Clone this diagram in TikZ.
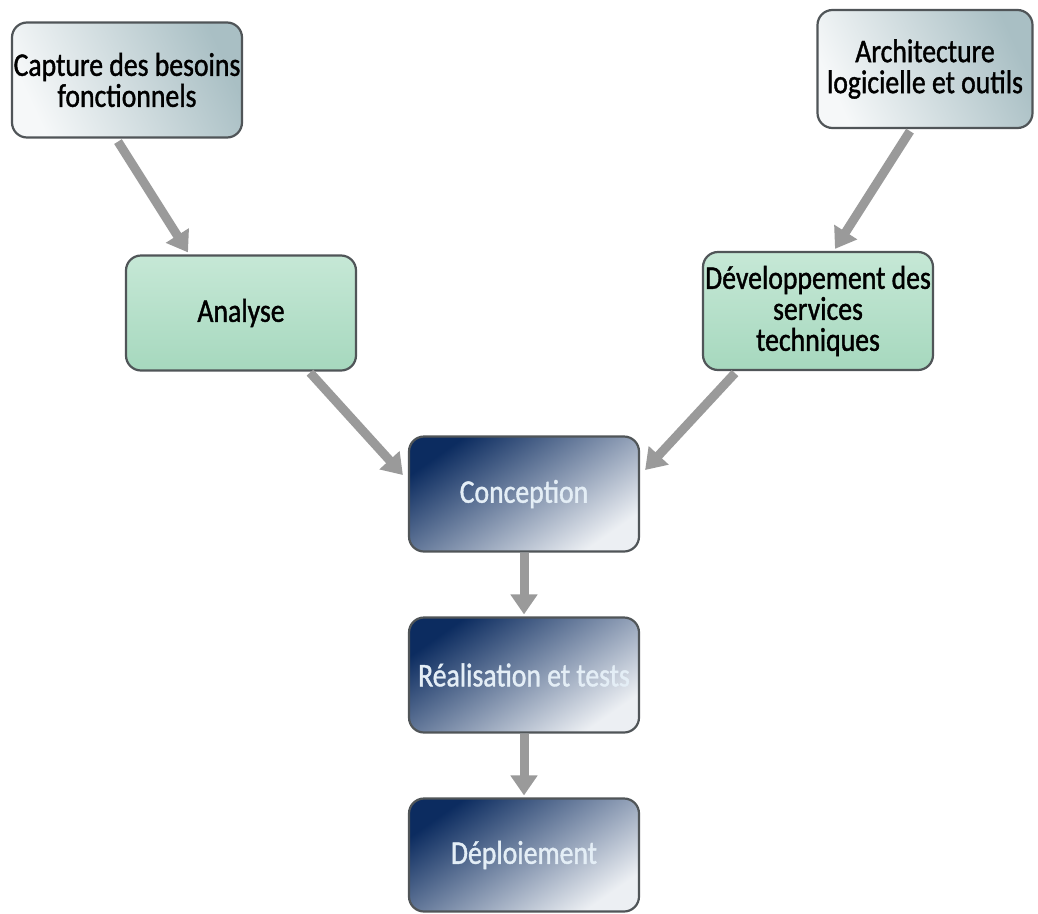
\documentclass[tikz,border=0pt]{standalone}
\usepackage{fontspec}
\newfontfamily\boxfont[FakeStretch=0.84,FakeBold=1.2]{Carlito}
\usetikzlibrary{calc,arrows.meta}
\definecolor{bordergray}{HTML}{505558}
\definecolor{arrowgray}{HTML}{9A9A9A}
\definecolor{lightA}{HTML}{F6F8F9}
\definecolor{lightB}{HTML}{A9BFC4}
\definecolor{mintA}{HTML}{C6E8D6}
\definecolor{mintB}{HTML}{A6D8BE}
\definecolor{navyA}{HTML}{0C2C60}
\definecolor{navyM}{HTML}{4C6B98}
\definecolor{navyB}{HTML}{ECEFF3}
\definecolor{paletext}{HTML}{E4EEF6}
\tikzset{
  basebox/.style={draw=bordergray, line width=2.2pt, rounded corners=15pt,
    minimum width=230pt, minimum height=115pt, align=center, inner sep=1pt,
    font=\boxfont\fontsize{33}{31}\selectfont},
  graybox/.style={basebox, left color=lightA, right color=lightB, shading angle=115, text=black},
  mintbox/.style={basebox, top color=mintA, bottom color=mintB, text=black},
  navybox/.style={basebox, left color=navyA, middle color=navyM, right color=navyB, shading angle=35, text=paletext},
  flow/.style={draw=arrowgray, line width=9pt, -{Triangle[width=26pt,length=20pt]}}
}
\begin{document}
\begin{tikzpicture}[x=1pt,y=-1pt]
\useasboundingbox[fill=white] (0,0) rectangle (1038,913);
\node[graybox] (cap) at (127,80) {Capture des besoins\\fonctionnels};
\node[graybox, minimum width=215pt, minimum height=118pt] (arch) at (925,69) {Architecture\\logicielle et outils};
\node[mintbox] (ana) at (241,313) {Analyse};
\node[mintbox, minimum height=118pt] (dev) at (818,311) {Développement des\\services\\techniques};
\node[navybox] (conc) at (524,494) {Conception};
\node[navybox] (real) at (524,675) {Réalisation et tests};
\node[navybox, minimum height=113pt] (dep) at (524,855) {Déploiement};
\draw[flow] ($(cap.south)+(-9,3)$) -- ($(ana.north)+(-53,-2)$);
\draw[flow] ($(arch.south)+(-15,2)$) -- ($(dev.north)+(17,-2)$);
\draw[flow] ($(ana.south)+(69,1)$) -- ($(conc.west)+(-5,-19)$);
\draw[flow] ($(dev.south)+(-83,2)$) -- ($(conc.east)+(5,-24)$);
\draw[flow] (conc.south) -- ($(real.north)+(0,-2)$);
\draw[flow] (real.south) -- ($(dep.north)+(0,-2)$);
\end{tikzpicture}
\end{document}
